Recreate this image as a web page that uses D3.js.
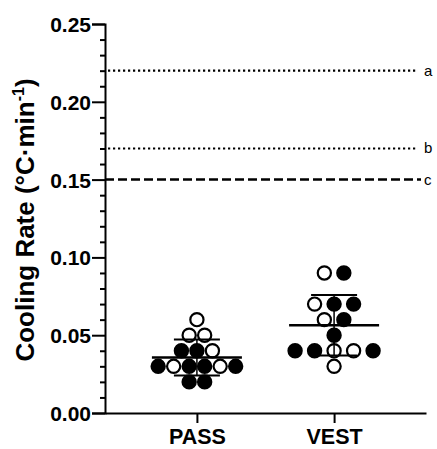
<!DOCTYPE html>
<html>
<head>
<meta charset="utf-8">
<script src="https://cdn.jsdelivr.net/npm/d3@7"></script>
<style>
  body { margin: 0; background: #fff; }
  text { font-family: "Liberation Sans", Arial, sans-serif; }
</style>
</head>
<body>
<div id="chart"></div>
<script>
// groups
var groups = ["PASS", "VEST"];

// cooling rates per subject (°C·min-1), listed row by row as drawn
var passValues = [0.06, 0.05, 0.05, 0.04, 0.04, 0.04, 0.03, 0.03, 0.03, 0.03, 0.03, 0.03, 0.02, 0.02];
var passFilled = [0, 0, 0, 1, 1, 0, 1, 0, 1, 1, 0, 1, 1, 1];
var vestValues = [0.09, 0.09, 0.07, 0.07, 0.07, 0.06, 0.06, 0.05, 0.04, 0.04, 0.04, 0.04, 0.04, 0.03];
var vestFilled = [0, 1, 0, 1, 1, 0, 1, 1, 1, 1, 0, 0, 1, 0];

// reference lines
var refLabels = ["a", "b", "c"];
var refValues = [0.22, 0.17, 0.15];
var refDashed = [false, false, true];

var yTicks = [0, 0.05, 0.10, 0.15, 0.20, 0.25];

var margin = { left: 105, right: 11, top: 24, bottom: 36 };
var width = 437 - margin.left - margin.right;
var height = 449 - margin.top - margin.bottom;

var svg = d3.select("#chart").append("svg")
    .attr("width", 437)
    .attr("height", 449);

var g = svg.append("g")
    .attr("transform", "translate(" + margin.left + "," + margin.top + ")");

var x = d3.scalePoint().domain(groups).range([0, width]).padding(0.67);
var y = d3.scaleLinear().domain([0, 0.25]).range([height, 0]);

// reference lines
refValues.forEach(function(v, i){
    g.append("line")
        .attr("x1", refDashed[i] ? 0 : 3)
        .attr("x2", refDashed[i] ? width - 5 : width - 8)
        .attr("y1", y(v))
        .attr("y2", y(v))
        .attr("stroke", "#000")
        .attr("stroke-width", refDashed[i] ? 2.5 : 2.2)
        .attr("stroke-dasharray", refDashed[i] ? "9,4" : "2.2,2.8");
    g.append("text")
        .attr("x", width - 2)
        .attr("y", y(v) + 5)
        .attr("font-size", "15px")
        .text(refLabels[i]);
});

// y axis with minor ticks
var minor = d3.range(0, 0.2501, 0.01).filter(function(d){
    return Math.abs(Math.round(d * 100) % 5) !== 0;
});
g.append("g")
    .call(d3.axisLeft(y).tickValues(minor).tickSize(5).tickFormat(""))
    .call(function(a){ a.select(".domain").remove(); })
    .selectAll("line").attr("stroke-width", 2);

var yAxis = g.append("g")
    .call(d3.axisLeft(y).tickValues(yTicks).tickSize(13).tickPadding(1).tickFormat(d3.format(".2f")));
yAxis.select(".domain").attr("stroke-width", 2);
yAxis.selectAll("line").attr("stroke-width", 2);
yAxis.selectAll("text")
    .attr("font-size", "21px")
    .attr("font-weight", "bold")
    .attr("fill", "#000")
    .attr("dy", "0.36em");

// x axis
var xAxis = g.append("g")
    .attr("transform", "translate(0," + height + ")")
    .call(d3.axisBottom(x).tickSize(10).tickPadding(6).tickSizeOuter(0));
xAxis.select(".domain").attr("stroke-width", 2);
xAxis.selectAll("line").attr("stroke-width", 2);
xAxis.selectAll("text")
    .attr("font-size", "21.5px")
    .attr("font-weight", "bold")
    .attr("fill", "#000");

// y axis title
var title = g.append("text")
    .attr("transform", "rotate(-90)")
    .attr("x", -(y(0.25) + 196))
    .attr("y", -71)
    .attr("text-anchor", "middle")
    .attr("font-size", "26px")
    .attr("font-weight", "bold");
title.append("tspan").text("Cooling Rate (°C·min");
title.append("tspan").attr("font-size", "16px").attr("dy", "-0.6em").text("-1");
title.append("tspan").attr("dy", "0.37em").text(")");

// scatter
function drawGroup(name, values, filled, spacing){
    var rows = d3.group(values.map(function(v, i){ return { v: v, f: filled[i] }; }), function(d){ return d.v; });
    var pts = [];
    rows.forEach(function(row){
        row.forEach(function(d, i){
            pts.push({ v: d.v, f: d.f, off: (i - (row.length - 1) / 2) * spacing });
        });
    });

    var cx = x(name);
    var m = d3.mean(values), sd = d3.deviation(values);

    g.selectAll(".pt-" + name)
        .data(pts)
        .enter().append("circle")
        .attr("cx", function(d){ return cx + d.off; })
        .attr("cy", function(d){ return y(d.v); })
        .attr("r", 6.6)
        .attr("fill", function(d){ return d.f ? "#000" : "#fff"; })
        .attr("stroke", "#000")
        .attr("stroke-width", 2.2);

    // mean and SD
    g.append("line").attr("x1", cx - 45).attr("x2", cx + 45)
        .attr("y1", y(m)).attr("y2", y(m))
        .attr("stroke", "#000").attr("stroke-width", 2.5);
    g.append("line").attr("x1", cx).attr("x2", cx)
        .attr("y1", y(m + sd)).attr("y2", y(m - sd))
        .attr("stroke", "#000").attr("stroke-width", 1.5);
    [m + sd, m - sd].forEach(function(v){
        g.append("line").attr("x1", cx - 23).attr("x2", cx + 23)
            .attr("y1", y(v)).attr("y2", y(v))
            .attr("stroke", "#000").attr("stroke-width", 2);
    });
}

drawGroup("PASS", passValues, passFilled, 15.5);
drawGroup("VEST", vestValues, vestFilled, 19.5);
</script>
</body>
</html>
